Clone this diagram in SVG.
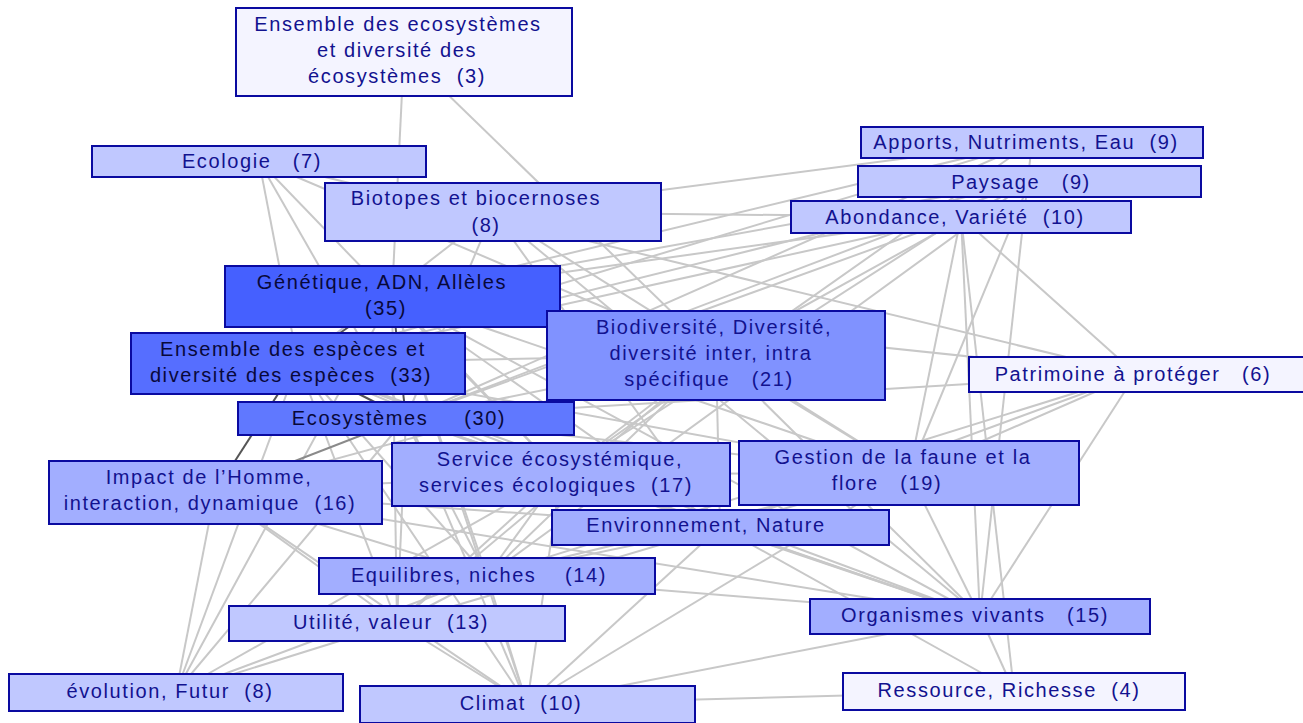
<svg xmlns="http://www.w3.org/2000/svg" width="1303" height="723" viewBox="0 0 1303 723" xml:space="preserve">
<style>
.e{stroke:#c8c8c8;stroke-width:2;fill:none}
.d{stroke:#555;stroke-width:2}
.m{stroke:#8a8a8a;stroke-width:2}
.n rect{stroke:#0a0aa0;stroke-width:2}
.n text{font-family:"Liberation Sans",Arial,sans-serif;font-size:20px;letter-spacing:1.6px;fill:#12128f;text-anchor:middle;white-space:pre}
.n.dk text{fill:#08083a}
.c0{fill:#f4f4ff}.c1{fill:#c0c8ff}.c2{fill:#a2aeff}.c3{fill:#8092ff}.c4{fill:#6078ff}.c5{fill:#566eff}.c6{fill:#4560ff}
</style>
<rect width="1303" height="723" fill="#fff"/>
<g id="connectors" class="e">
<line x1="404" y1="52" x2="392" y2="296"/>
<line x1="404" y1="52" x2="716" y2="355"/>
<line x1="259" y1="161" x2="298" y2="363"/>
<line x1="259" y1="161" x2="406" y2="418"/>
<line x1="259" y1="161" x2="561" y2="474"/>
<line x1="259" y1="161" x2="716" y2="355"/>
<line x1="259" y1="161" x2="1136" y2="374"/>
<line x1="493" y1="212" x2="298" y2="363"/>
<line x1="493" y1="212" x2="406" y2="418"/>
<line x1="493" y1="212" x2="980" y2="616"/>
<line x1="493" y1="212" x2="961" y2="217"/>
<line x1="493" y1="212" x2="909" y2="473"/>
<line x1="493" y1="212" x2="1032" y2="142"/>
<line x1="493" y1="212" x2="720" y2="527"/>
<line x1="1032" y1="142" x2="392" y2="296"/>
<line x1="1032" y1="142" x2="298" y2="363"/>
<line x1="1032" y1="142" x2="406" y2="418"/>
<line x1="1032" y1="142" x2="980" y2="616"/>
<line x1="1032" y1="142" x2="561" y2="474"/>
<line x1="1030" y1="181" x2="392" y2="296"/>
<line x1="1030" y1="181" x2="298" y2="363"/>
<line x1="1030" y1="181" x2="406" y2="418"/>
<line x1="1030" y1="181" x2="909" y2="473"/>
<line x1="1030" y1="181" x2="716" y2="355"/>
<line x1="1030" y1="181" x2="487" y2="576"/>
<line x1="961" y1="217" x2="392" y2="296"/>
<line x1="961" y1="217" x2="298" y2="363"/>
<line x1="961" y1="217" x2="406" y2="418"/>
<line x1="961" y1="217" x2="909" y2="473"/>
<line x1="961" y1="217" x2="980" y2="616"/>
<line x1="961" y1="217" x2="1014" y2="691"/>
<line x1="961" y1="217" x2="1136" y2="374"/>
<line x1="961" y1="217" x2="561" y2="474"/>
<line x1="392" y1="296" x2="716" y2="355"/>
<line x1="392" y1="296" x2="561" y2="474"/>
<line x1="392" y1="296" x2="487" y2="576"/>
<line x1="392" y1="296" x2="397" y2="623"/>
<line x1="392" y1="296" x2="909" y2="473"/>
<line x1="392" y1="296" x2="720" y2="527"/>
<line x1="392" y1="296" x2="527" y2="704"/>
<line x1="392" y1="296" x2="980" y2="616"/>
<line x1="392" y1="296" x2="176" y2="692"/>
<line x1="392" y1="296" x2="1136" y2="374"/>
<line x1="298" y1="363" x2="716" y2="355"/>
<line x1="298" y1="363" x2="561" y2="474"/>
<line x1="298" y1="363" x2="487" y2="576"/>
<line x1="298" y1="363" x2="397" y2="623"/>
<line x1="298" y1="363" x2="909" y2="473"/>
<line x1="298" y1="363" x2="720" y2="527"/>
<line x1="298" y1="363" x2="176" y2="692"/>
<line x1="298" y1="363" x2="527" y2="704"/>
<line x1="298" y1="363" x2="980" y2="616"/>
<line x1="406" y1="418" x2="716" y2="355"/>
<line x1="406" y1="418" x2="561" y2="474"/>
<line x1="406" y1="418" x2="487" y2="576"/>
<line x1="406" y1="418" x2="397" y2="623"/>
<line x1="406" y1="418" x2="909" y2="473"/>
<line x1="406" y1="418" x2="720" y2="527"/>
<line x1="406" y1="418" x2="176" y2="692"/>
<line x1="406" y1="418" x2="527" y2="704"/>
<line x1="406" y1="418" x2="980" y2="616"/>
<line x1="406" y1="418" x2="1136" y2="374"/>
<line x1="716" y1="355" x2="561" y2="474"/>
<line x1="716" y1="355" x2="909" y2="473"/>
<line x1="716" y1="355" x2="720" y2="527"/>
<line x1="716" y1="355" x2="487" y2="576"/>
<line x1="716" y1="355" x2="397" y2="623"/>
<line x1="716" y1="355" x2="980" y2="616"/>
<line x1="716" y1="355" x2="215" y2="492"/>
<line x1="215" y1="492" x2="487" y2="576"/>
<line x1="215" y1="492" x2="397" y2="623"/>
<line x1="215" y1="492" x2="176" y2="692"/>
<line x1="215" y1="492" x2="527" y2="704"/>
<line x1="215" y1="492" x2="561" y2="474"/>
<line x1="215" y1="492" x2="720" y2="527"/>
<line x1="215" y1="492" x2="980" y2="616"/>
<line x1="561" y1="474" x2="487" y2="576"/>
<line x1="561" y1="474" x2="397" y2="623"/>
<line x1="561" y1="474" x2="527" y2="704"/>
<line x1="561" y1="474" x2="909" y2="473"/>
<line x1="561" y1="474" x2="720" y2="527"/>
<line x1="561" y1="474" x2="176" y2="692"/>
<line x1="561" y1="474" x2="980" y2="616"/>
<line x1="909" y1="473" x2="980" y2="616"/>
<line x1="909" y1="473" x2="720" y2="527"/>
<line x1="909" y1="473" x2="487" y2="576"/>
<line x1="909" y1="473" x2="527" y2="704"/>
<line x1="720" y1="527" x2="980" y2="616"/>
<line x1="720" y1="527" x2="1014" y2="691"/>
<line x1="720" y1="527" x2="487" y2="576"/>
<line x1="720" y1="527" x2="527" y2="704"/>
<line x1="720" y1="527" x2="397" y2="623"/>
<line x1="487" y1="576" x2="397" y2="623"/>
<line x1="487" y1="576" x2="527" y2="704"/>
<line x1="487" y1="576" x2="980" y2="616"/>
<line x1="487" y1="576" x2="176" y2="692"/>
<line x1="397" y1="623" x2="527" y2="704"/>
<line x1="397" y1="623" x2="176" y2="692"/>
<line x1="980" y1="616" x2="1014" y2="691"/>
<line x1="980" y1="616" x2="527" y2="704"/>
<line x1="527" y1="704" x2="1014" y2="691"/>
<line x1="1136" y1="374" x2="980" y2="616"/>
<line x1="1136" y1="374" x2="720" y2="527"/>
<line x1="1136" y1="374" x2="487" y2="576"/>
<line x1="1136" y1="374" x2="909" y2="473"/>
<line x1="406" y1="418" x2="215" y2="492" class="m"/>
<line x1="392" y1="296" x2="298" y2="363" class="d"/>
<line x1="392" y1="296" x2="406" y2="418" class="d"/>
<line x1="298" y1="363" x2="406" y2="418" class="d"/>
<line x1="298" y1="363" x2="215" y2="492" class="d"/>
</g>
<g id="n-ecoens" class="n"><rect x="236" y="8" width="336" height="88" class="c0"/><text x="398" y="31">Ensemble des ecosystèmes</text><text x="397" y="57">et diversité des</text><text x="397" y="83">écosystèmes  (3)</text></g>
<g id="n-ecologie" class="n"><rect x="92" y="146" width="334" height="31" class="c1"/><text x="252" y="168">Ecologie   (7)</text></g>
<g id="n-biotopes" class="n"><rect x="325" y="183" width="336" height="58" class="c1"/><text x="476" y="205">Biotopes et biocernoses</text><text x="486" y="232">(8)</text></g>
<g id="n-apports" class="n"><rect x="861" y="127" width="342" height="31" class="c1"/><text x="1026" y="149">Apports, Nutriments, Eau  (9)</text></g>
<g id="n-paysage" class="n"><rect x="858" y="166" width="343" height="31" class="c1"/><text x="1021" y="189">Paysage   (9)</text></g>
<g id="n-abondance" class="n"><rect x="791" y="201" width="340" height="32" class="c1"/><text x="955" y="224">Abondance, Variété  (10)</text></g>
<g id="n-genetique" class="n dk"><rect x="225" y="266" width="335" height="61" class="c6"/><text x="382" y="289">Génétique, ADN, Allèles</text><text x="386" y="315">(35)</text></g>
<g id="n-ensesp" class="n dk"><rect x="131" y="333" width="334" height="61" class="c5"/><text x="293" y="356">Ensemble des espèces et</text><text x="291" y="382">diversité des espèces  (33)</text></g>
<g id="n-biodiv" class="n"><rect x="547" y="311" width="338" height="89" class="c3"/><text x="714" y="334">Biodiversité, Diversité,</text><text x="711" y="360">diversité inter, intra</text><text x="709" y="386">spécifique   (21)</text></g>
<g id="n-patrimoine" class="n"><rect x="969" y="357" width="345" height="35" class="c0"/><text x="1133" y="381">Patrimoine à protéger   (6)</text></g>
<g id="n-ecosys" class="n dk"><rect x="238" y="402" width="336" height="33" class="c4"/><text x="399" y="425">Ecosystèmes     (30)</text></g>
<g id="n-impact" class="n"><rect x="49" y="461" width="333" height="63" class="c2"/><text x="209" y="484">Impact de l’Homme,</text><text x="210" y="510">interaction, dynamique  (16)</text></g>
<g id="n-service" class="n"><rect x="392" y="443" width="338" height="63" class="c2"/><text x="560" y="466">Service écosystémique,</text><text x="556" y="492">services écologiques  (17)</text></g>
<g id="n-gestion" class="n"><rect x="739" y="441" width="340" height="64" class="c2"/><text x="903" y="464">Gestion de la faune et la</text><text x="887" y="490">flore   (19)</text></g>
<g id="n-environ" class="n"><rect x="552" y="510" width="337" height="35" class="c2"/><text x="706" y="532">Environnement, Nature</text></g>
<g id="n-equil" class="n"><rect x="319" y="558" width="336" height="36" class="c2"/><text x="479" y="582">Equilibres, niches    (14)</text></g>
<g id="n-organismes" class="n"><rect x="810" y="599" width="340" height="35" class="c2"/><text x="975" y="622">Organismes vivants   (15)</text></g>
<g id="n-utilite" class="n"><rect x="229" y="606" width="336" height="35" class="c1"/><text x="391" y="629">Utilité, valeur  (13)</text></g>
<g id="n-evolution" class="n"><rect x="9" y="674" width="334" height="37" class="c1"/><text x="170" y="698">évolution, Futur  (8)</text></g>
<g id="n-climat" class="n"><rect x="360" y="686" width="335" height="37" class="c1"/><text x="521" y="710">Climat  (10)</text></g>
<g id="n-ressource" class="n"><rect x="843" y="673" width="342" height="37" class="c0"/><text x="1009" y="697">Ressource, Richesse  (4)</text></g>
</svg>
